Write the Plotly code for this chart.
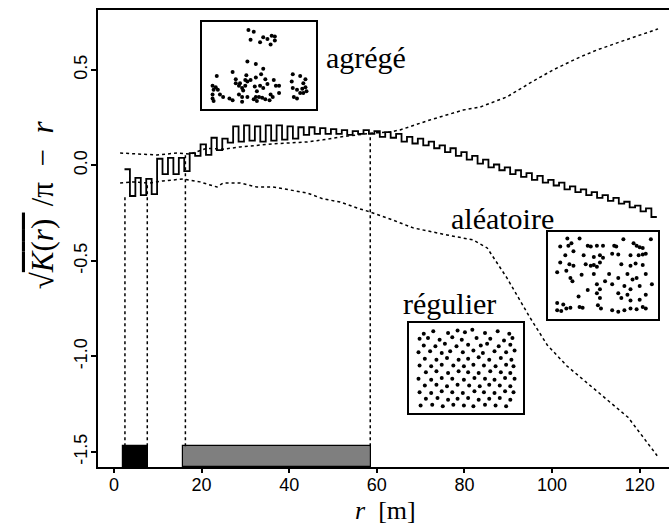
import plotly.graph_objects as go

# ---- step function sqrt(K(r)/pi) - r (values per step) ----
step_r0 = 2.4
step_w = 1.24
step_vals = [-0.02, -0.16, -0.065, -0.155, -0.07, -0.15, 0.035, -0.045, 0.04, -0.045,
             0.04, -0.03, 0.065, 0.05, 0.11, 0.055, 0.145, 0.08, 0.14, 0.12,
             0.205, 0.125, 0.21, 0.13, 0.205, 0.125, 0.21, 0.13, 0.21, 0.135,
             0.205, 0.14, 0.2, 0.16, 0.2, 0.165, 0.195, 0.165, 0.19, 0.165,
             0.185, 0.16, 0.18, 0.165, 0.185, 0.165, 0.18, 0.15, 0.175, 0.145,
             0.165, 0.125, 0.15, 0.115, 0.14, 0.105, 0.125, 0.09, 0.105, 0.07,
             0.09, 0.05, 0.07, 0.03, 0.05, 0.01, 0.03, -0.01, 0.005, -0.025,
             -0.01, -0.045, -0.025, -0.06, -0.04, -0.075, -0.055, -0.09, -0.075, -0.105,
             -0.09, -0.125, -0.11, -0.14, -0.125, -0.155, -0.14, -0.17, -0.155, -0.185,
             -0.17, -0.2, -0.19, -0.22, -0.21, -0.24, -0.225, -0.27]

# ---- envelopes ----
up_r = [1.4, 5.9, 9.8, 14.4, 17.4, 21.2, 24.9, 28.8, 32.6, 36.3, 40.2, 44.1, 47.7, 51.6,
        55.5, 59.1, 63.0, 65.3, 72.1, 79.7, 83.6, 89.7, 95.0, 100.2, 106.4, 110.3, 115.5,
        120.1, 124.2]
up_v = [0.065, 0.06, 0.055, 0.065, 0.06, 0.09, 0.085, 0.097, 0.107, 0.113, 0.118, 0.123,
        0.134, 0.149, 0.16, 0.17, 0.175, 0.186, 0.238, 0.29, 0.306, 0.359, 0.432, 0.5,
        0.568, 0.605, 0.647, 0.683, 0.715]
lo_r = [1.4, 4.3, 8.2, 11.2, 15.8, 19.6, 23.5, 24.9, 28.8, 32.6, 36.3, 40.2, 44.1, 47.7,
        51.6, 55.5, 58.4, 63.0, 68.3, 76.0, 82.0, 85.2, 89.7, 95.0, 98.9, 103.4, 108.0,
        112.6, 117.4, 124.0]
lo_v = [-0.092, -0.086, -0.092, -0.081, -0.071, -0.086, -0.113, -0.092, -0.092, -0.113,
        -0.113, -0.128, -0.144, -0.175, -0.191, -0.223, -0.243, -0.28, -0.327, -0.364,
        -0.39, -0.432, -0.589, -0.798, -0.94, -1.05, -1.14, -1.23, -1.32, -1.52]

# ---- significance intervals ----
vline_r = [2.5, 7.6, 16.3, 58.5]
vline_top = [-0.16, -0.1, 0.06, 0.17]
bar_lo = [2.1, 15.8]
bar_hi = [7.8, 58.7]
bar_colors = ["black", "#7f7f7f"]
bar_top = -1.47

# ---- inset point patterns (0-100 box coords) ----
agg_x = [40, 45, 42, 54, 58, 62, 65, 51, 61, 65, 39, 47, 54, 25, 10, 38, 47, 52, 56, 64, 69, 82,
         89, 94, 81, 92, 6, 9, 11, 28, 31, 34, 37, 35, 39, 42, 46, 51, 54, 58, 66, 82, 86, 91,
         94, 95, 89, 6, 13, 16, 22, 6, 7, 31, 34, 39, 45, 47, 50, 53, 56, 60, 63, 69, 83, 86,
         48, 34, 25, 32, 37, 28, 48, 61, 7, 92]
agg_y = [94, 92, 82, 85, 83, 87, 86, 79, 76, 81, 55, 52, 46, 42, 37, 38, 35, 39, 33, 32, 25, 39,
         37, 33, 30, 28, 25, 23, 20, 28, 25, 22, 25, 19, 30, 32, 24, 25, 22, 27, 25, 22, 20, 21,
         23, 18, 16, 14, 14, 11, 9, 9, 6, 14, 11, 11, 8, 11, 11, 10, 8, 7, 11, 16, 11, 9,
         6, 5, 7, 28, 32, 33, 18, 14, 20, 16]
ale_x = [15, 27, 70, 97, 8, 16, 19, 35, 38, 44, 50, 61, 63, 80, 83, 86, 89, 92, 13, 21, 31, 41,
         47, 50, 59, 65, 77, 85, 89, 8, 17, 21, 33, 38, 41, 44, 47, 68, 77, 82, 89, 5, 14, 18,
         20, 29, 41, 56, 65, 74, 79, 83, 92, 44, 52, 47, 59, 71, 77, 86, 98, 26, 35, 44, 47,
         65, 68, 74, 77, 86, 92, 5, 11, 5, 9, 14, 18, 27, 30, 45, 48, 59, 65, 71, 77, 83, 89, 92]
ale_y = [96, 96, 95, 95, 86, 87, 90, 87, 86, 87, 87, 87, 86, 90, 87, 85, 84, 77, 75, 80, 75, 73,
         75, 72, 77, 76, 75, 75, 76, 66, 64, 62, 64, 62, 63, 61, 66, 64, 62, 65, 63, 54, 56, 47,
         43, 51, 52, 52, 47, 52, 45, 47, 52, 39, 43, 33, 39, 37, 33, 37, 39, 24, 32, 28, 22,
         28, 22, 26, 19, 20, 26, 16, 14, 7, 6, 9, 10, 11, 10, 13, 9, 7, 5, 7, 9, 8, 11, 9]
reg_x = [10, 19, 33, 42, 49, 56, 68, 80, 91,
         6, 14, 25, 37, 46, 60, 73, 86, 94,
         10, 21, 30, 41, 52, 64, 70, 81, 92,
         5, 16, 27, 35, 47, 57, 66, 77, 88, 96,
         11, 22, 32, 43, 52, 62, 72, 83, 93,
         6, 17, 27, 38, 48, 57, 67, 78, 88, 95,
         12, 22, 33, 43, 52, 62, 73, 83, 92,
         5, 17, 27, 37, 48, 58, 68, 77, 87, 96,
         11, 22, 32, 42, 53, 63, 72, 82, 92,
         6, 17, 27, 37, 47, 58, 67, 77, 87, 95,
         12, 23, 33, 42, 52, 62, 72, 82, 92,
         7, 18, 28, 38, 48, 57, 68, 78, 88]
reg_y = [91, 94, 92, 95, 93, 96, 92, 94, 91,
         85, 86, 84, 87, 84, 86, 85, 83, 86,
         77, 76, 79, 76, 78, 77, 79, 76, 78,
         69, 70, 68, 70, 69, 71, 68, 70, 69, 71,
         61, 60, 62, 60, 61, 63, 60, 62, 60,
         53, 52, 54, 53, 52, 54, 53, 52, 54, 52,
         45, 46, 44, 46, 45, 44, 46, 45, 44,
         37, 36, 38, 37, 36, 38, 37, 36, 38, 37,
         29, 30, 28, 30, 29, 28, 30, 29, 28,
         21, 20, 22, 21, 20, 22, 21, 20, 22, 21,
         13, 14, 12, 13, 14, 12, 13, 14, 12,
         5, 6, 4, 6, 5, 4, 6, 5, 4]

labels = ["agrégé", "aléatoire", "régulier"]
label_r = [57.5, 88.6, 76.6]
label_y = [0.565, -0.28, -0.725]

x_ticks = [0, 20, 40, 60, 80, 100, 120]
y_ticks = [-1.5, -1.0, -0.5, 0.0, 0.5]
y_tick_text = ["-1.5", "-1.0", "-0.5", "0.0", "0.5"]

XR = [-3.65, 126.7]
YR = [-1.579, 0.814]

fig = go.Figure()

# bars
for lo, hi, c in zip(bar_lo, bar_hi, bar_colors):
    fig.add_trace(go.Bar(x=[(lo + hi) / 2], width=[hi - lo], base=[YR[0]], y=[bar_top - YR[0]],
                         marker=dict(color=c, line=dict(color="black", width=1.2)),
                         showlegend=False, hoverinfo="skip"))

# vertical dotted lines
for r, t in zip(vline_r, vline_top):
    fig.add_trace(go.Scatter(x=[r, r], y=[bar_top, t], mode="lines",
                             line=dict(color="black", width=1.5, dash="dot"), showlegend=False))

# envelopes
fig.add_trace(go.Scatter(x=up_r, y=up_v, mode="lines",
                         line=dict(color="black", width=1.5, dash="dot"), showlegend=False))
fig.add_trace(go.Scatter(x=lo_r, y=lo_v, mode="lines",
                         line=dict(color="black", width=1.5, dash="dot"), showlegend=False))

# step function
step_x = [step_r0 + step_w * i for i in range(len(step_vals) + 1)]
step_y = step_vals + [step_vals[-1]]
fig.add_trace(go.Scatter(x=step_x, y=step_y, mode="lines", line_shape="hv",
                         line=dict(color="black", width=1.8), showlegend=False))

# insets
def px_dom(a, b):
    return [(a - 98) / 571, (b - 98) / 571]

def py_dom(top, bot):
    return [(467 - bot) / 457, (467 - top) / 457]

insets = [
    (agg_x, agg_y, px_dom(202, 316), py_dom(22, 109)),
    (ale_x, ale_y, px_dom(548, 658), py_dom(232, 319)),
    (reg_x, reg_y, px_dom(409, 523), py_dom(323, 413)),
]
for i, (xs, ys, dx, dy) in enumerate(insets, start=2):
    fig.add_trace(go.Scatter(x=xs, y=ys, mode="markers", xaxis=f"x{i}", yaxis=f"y{i}",
                             marker=dict(color="black", size=4), showlegend=False))
    ax = dict(domain=dx, range=[-4, 104], showline=True, mirror=True, linecolor="black",
              linewidth=1.5, showticklabels=False, ticks="", showgrid=False, zeroline=False,
              anchor=f"y{i}")
    ay = dict(domain=dy, range=[-4, 104], showline=True, mirror=True, linecolor="black",
              linewidth=1.5, showticklabels=False, ticks="", showgrid=False, zeroline=False,
              anchor=f"x{i}")
    fig.update_layout(**{f"xaxis{i}": ax, f"yaxis{i}": ay})

serif = "Liberation Serif"
for t, r, y in zip(labels, label_r, label_y):
    fig.add_annotation(x=r, y=y, xref="x", yref="y", text=t, showarrow=False,
                       xanchor="center", yanchor="middle",
                       font=dict(family=serif, size=30, color="black"))

fig.add_annotation(xref="paper", yref="paper", x=0.504, y=-0.095, text="<i>r</i>\u2002[m]",
                   showarrow=False, xanchor="center", yanchor="middle",
                   font=dict(family=serif, size=26, color="black"))
fig.add_annotation(xref="paper", yref="paper", x=-0.098, y=0.573, textangle=-90,
                   xanchor="center", yanchor="middle",
                   text="√<span style='text-decoration:overline'><i>K</i>(<i>r</i>)\u2009</span>\u2009/π\u2002−\u2002<i>r</i>",
                   showarrow=False, font=dict(family=serif, size=31, color="black"))

fig.update_layout(
    width=669, height=527,
    margin=dict(l=98, r=0, t=10, b=60),
    paper_bgcolor="white", plot_bgcolor="white",
    barmode="overlay", bargap=0,
    xaxis=dict(range=XR, tickvals=x_ticks, ticks="outside", ticklen=4, tickwidth=1.5,
               tickcolor="black", showline=True, mirror=True, linecolor="black", linewidth=1.5,
               showgrid=False, zeroline=False, ticklabelstandoff=-3,
               tickfont=dict(family="Liberation Sans", size=18, color="black")),
    yaxis=dict(range=YR, tickvals=y_ticks, ticktext=y_tick_text, ticks="outside", ticklen=5,
               tickwidth=1.5, tickcolor="black", tickangle=-90, showline=True, mirror=False,
               linecolor="black", linewidth=1.5, showgrid=False, zeroline=False,
               ticklabelstandoff=-3,
               tickfont=dict(family="Liberation Sans", size=18, color="black")),
)

fig.write_html("out.html", config={"displayModeBar": False},
               post_script="document.body.style.margin='0px';document.body.style.overflow='hidden';")
